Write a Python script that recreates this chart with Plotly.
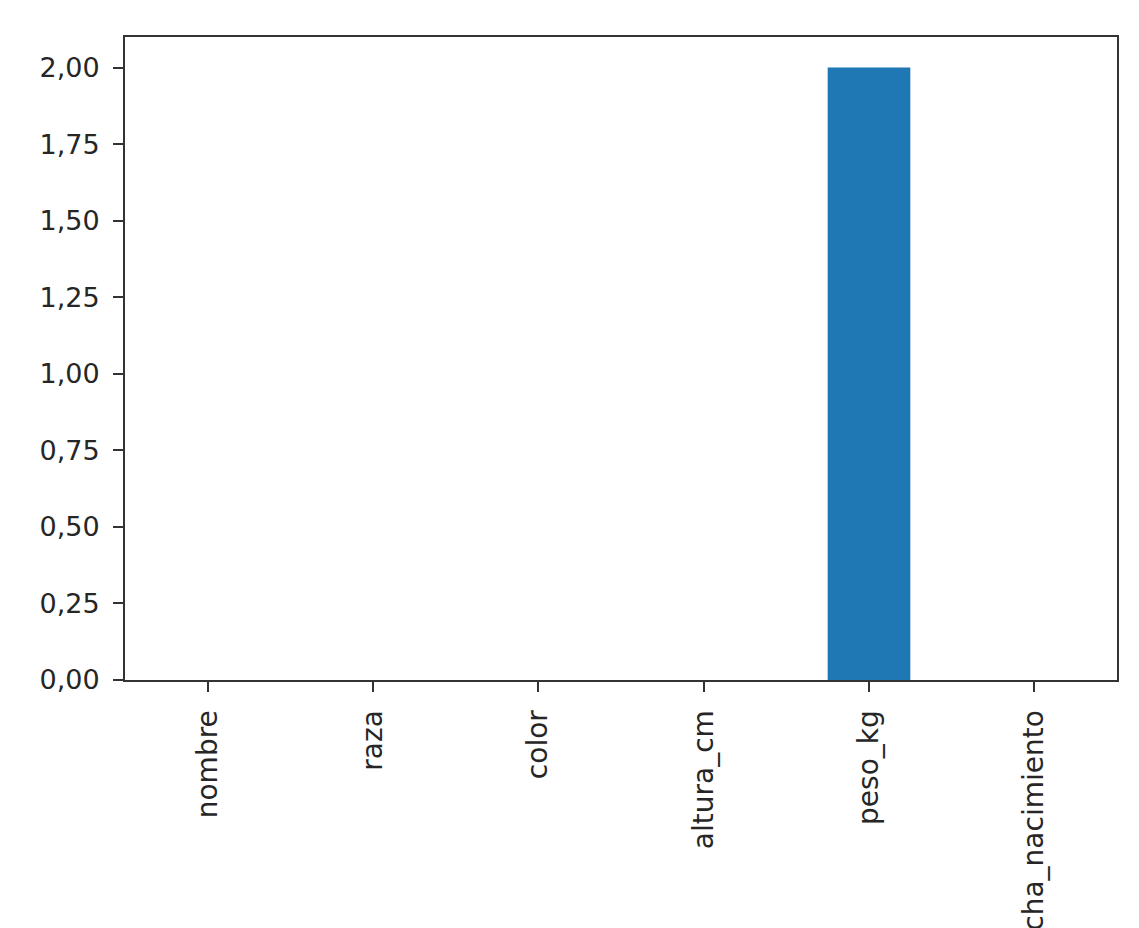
import plotly.graph_objects as go

# null counts per column
columnas = ["nombre", "raza", "color", "altura_cm", "peso_kg", "fecha_nacimiento"]
nulos = [0, 0, 0, 0, 2, 0]
y_ticks = [0, 0.25, 0.5, 0.75, 1.0, 1.25, 1.5, 1.75, 2.0]

fig = go.Figure()

fig.add_trace(go.Bar(
    x=columnas,
    y=nulos,
    width=0.5,
    marker=dict(color="#1f77b4", line=dict(width=0)),
))

axis_style = dict(
    showline=True,
    linecolor="#333333",
    linewidth=2,
    mirror=True,
    showgrid=False,
    zeroline=False,
    ticks="outside",
    ticklen=10,
    tickwidth=2,
    tickcolor="#333333",
)

fig.update_xaxes(
    range=[-0.5, 5.5],
    tickangle=-90,
    automargin=False,
    ticklabelstandoff=7,
    tickfont=dict(family="DejaVu Sans", size=28, color="#262626"),
    **axis_style
)
fig.update_yaxes(
    range=[0, 2.1],
    tickvals=y_ticks,
    tickformat=".2f",
    automargin=False,
    ticklabelstandoff=8,
    tickfont=dict(family="DejaVu Sans", size=27, color="#262626"),
    **axis_style
)

# the page body adds 8px around the figure, so size and margins allow for it
fig.update_layout(
    width=1131,
    height=920,
    margin=dict(l=117, r=22, t=29, b=248),
    paper_bgcolor="white",
    plot_bgcolor="white",
    separators=",.",
    showlegend=False,
)

fig.write_html("out.html")
